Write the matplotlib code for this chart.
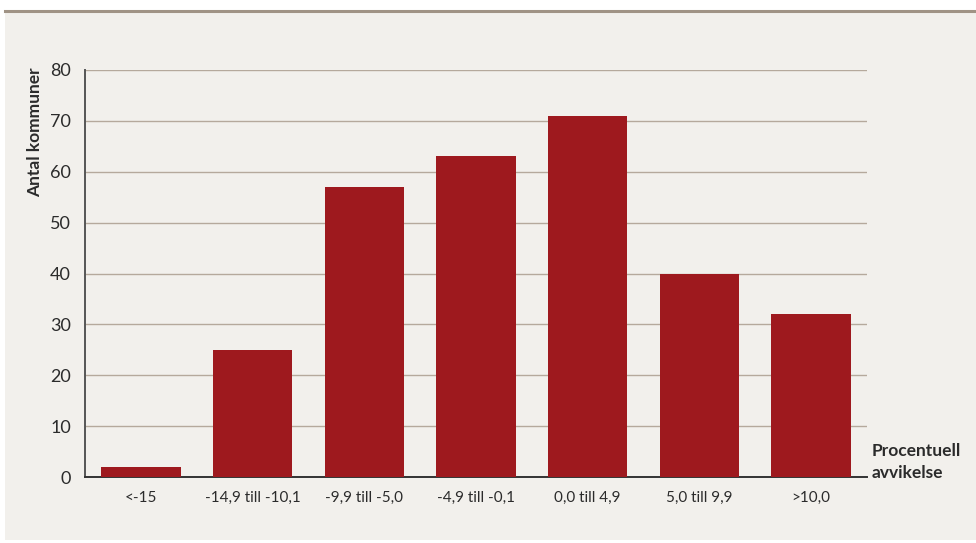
import matplotlib.pyplot as plt
from matplotlib.patches import Rectangle
from matplotlib.lines import Line2D

categories = ["<-15", "-14,9 till -10,1", "-9,9 till -5,0", "-4,9 till -0,1",
              "0,0 till 4,9", "5,0 till 9,9", ">10,0"]
values = [2, 25, 57, 63, 71, 40, 32]
yticks = [0, 10, 20, 30, 40, 50, 60, 70, 80]

bar_color = "#9e191e"
bg = "#f2f0ec"
grid_color = "#b5a99c"
text_color = "#2b2b2b"

plt.rcParams['font.family'] = ['Lato', 'DejaVu Sans']

fig = plt.figure(figsize=(9.76, 5.43), dpi=100)
fig.patch.set_facecolor("white")
fig.patches.append(Rectangle((5 / 976, 0.005), 1, 1 - 12 / 543 - 0.005,
                             transform=fig.transFigure, facecolor=bg,
                             edgecolor="none", zorder=-1))
fig.lines.append(Line2D([5 / 976, 1], [1 - 11 / 543] * 2, transform=fig.transFigure,
                        color="#a09385", lw=2.2))

ax = fig.add_axes([85 / 976, 1 - 477 / 543, 782 / 976, 407 / 543])
ax.set_facecolor(bg)
x = list(range(len(categories)))
ax.bar(x, values, width=0.71, color=bar_color, zorder=3)
ax.set_xlim(-0.5, len(categories) - 0.5)
ax.set_ylim(0, 80)
ax.set_yticks(yticks)
ax.set_xticks(x)
ax.set_xticklabels(categories, fontsize=11, color=text_color)
ax.tick_params(axis="y", length=0, pad=10, labelsize=13, labelcolor=text_color)
ax.tick_params(axis="x", length=0, pad=10)
ax.grid(axis="y", color=grid_color, lw=1, zorder=0)
for s in ["top", "right"]:
    ax.spines[s].set_visible(False)
ax.spines["left"].set_color("#555555")
ax.spines["bottom"].set_color("#333333")
ax.spines["left"].set_linewidth(1.4)
ax.spines["bottom"].set_linewidth(1.4)

fig.text(35 / 976, 1 - 132 / 543, "Antal kommuner", rotation=90, ha="center",
         va="center", fontsize=12.5, fontweight="bold", color=text_color)
fig.text(872 / 976, 1 - 462 / 543, "Procentuell\navvikelse", ha="left", va="center",
         fontsize=12.5, fontweight="bold", color=text_color, linespacing=1.5)

fig.savefig("out.png", dpi=100, facecolor=fig.get_facecolor())
